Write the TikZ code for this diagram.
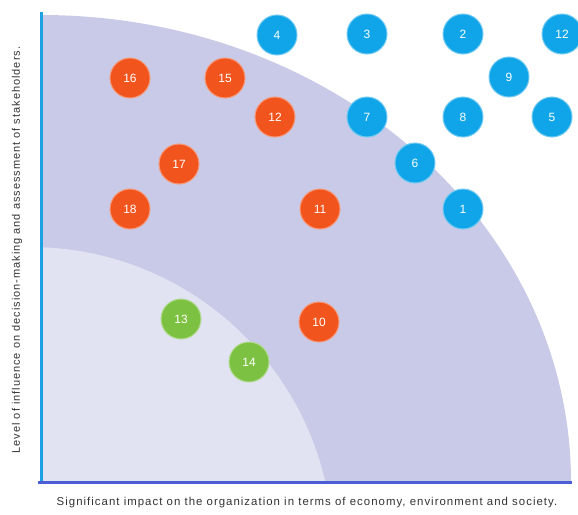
\documentclass[tikz,border=0pt]{standalone}
\usepackage{fontspec}
\setmainfont{Liberation Sans}
\newfontfamily\axisfont[LetterSpace=9]{Liberation Sans}

\definecolor{topicblue}{RGB}{16,165,232}
\definecolor{topicorange}{RGB}{242,84,30}
\definecolor{topicgreen}{RGB}{125,193,66}
\definecolor{zoneouter}{RGB}{200,202,231}
\definecolor{zoneinner}{RGB}{225,227,243}
\definecolor{axisleft}{RGB}{30,160,226}
\definecolor{axisbottom}{RGB}{76,94,214}

\begin{document}
\begin{tikzpicture}
[every node/.style={font=\fontsize{12}{12}\selectfont},x=1pt,y=-1pt,
  bc/.style = {circle,fill=topicblue,draw=topicblue!60!white,line width=1pt,
        text=white,minimum size=40pt,inner sep=0pt},
  oc/.style = {bc,fill=topicorange,draw=topicorange!60!white},
  gc/.style = {bc,fill=topicgreen,draw=topicgreen!60!white},
  axislabel/.style = {font=\axisfont\fontsize{11.4}{13}\selectfont,text=black!80,inner sep=0pt}]
%,draw=black!40,fill=black!5,thick

\useasboundingbox (0,0) rectangle (578,514);
\coordinate (origin) at (41,482);
\coordinate (ytop) at (41,12);
\coordinate (xend) at (572,482);

% zones
\begin{scope}
\clip (ytop) rectangle (xend);
\fill[zoneouter] (origin) ellipse [x radius=530,y radius=467];
\fill[zoneinner] (30,550) circle [radius=303];
\end{scope}

\draw[axisleft,line width=3pt] (ytop) -- ([yshift=-1.5pt]origin);
\draw[axisbottom,line width=3pt] ([xshift=-3pt]origin) -- (xend);

% blue topics
   \node[bc] (b1) at (463,209) {1};
   \node[bc] (b2) at (463,34) {2};
   \node[bc] (b3) at (367,34) {3};
   \node[bc] (b4) at (277,35) {4};
   \node[bc] (b5) at (552,117) {5};
   \node[bc] (b6) at (415,163) {6};
   \node[bc] (b7) at (367,117) {7};
   \node[bc] (b8) at (463,117) {8};
   \node[bc] (b9) at (509,77) {9};
   \node[bc] (b12) at (562,34) {12};
% orange topics
   \node[oc] (o10) at (319,322) {10};
   \node[oc] (o11) at (320,209) {11};
   \node[oc] (o12) at (275,117) {12};
   \node[oc] (o15) at (225,78) {15};
   \node[oc] (o16) at (130,78) {16};
   \node[oc] (o17) at (179,164) {17};
   \node[oc] (o18) at (130,209) {18};
% green topics
   \node[gc] (g13) at (181,319) {13};
   \node[gc] (g14) at (249,362) {14};

\node[axislabel] (xlabel) at (307,503)
  {Significant impact on the organization in terms of economy, environment and society.};
\node[axislabel,font=\axisfont\fontsize{11}{13}\selectfont,rotate=90] (ylabel) at (17,250)
  {Level of influence on decision-making and assessment of stakeholders.};
\end{tikzpicture}
\end{document}
